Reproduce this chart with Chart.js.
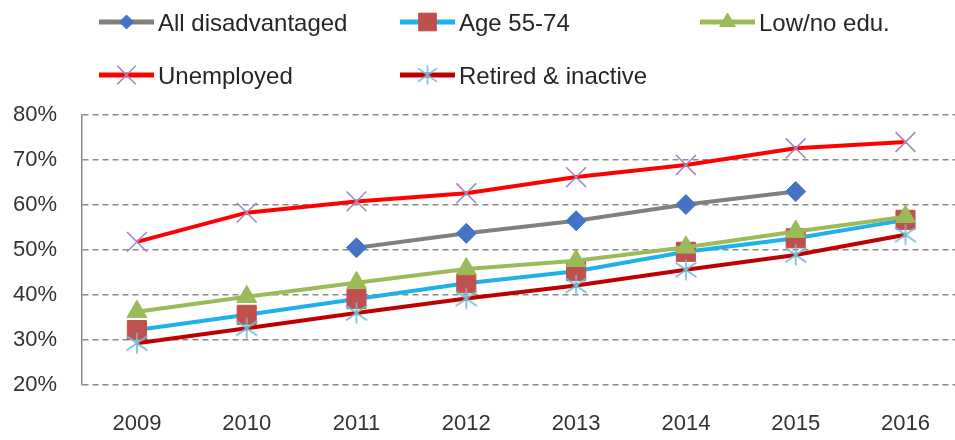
<!DOCTYPE html>
<html>
<head>
<meta charset="utf-8">
<script src="https://cdn.jsdelivr.net/npm/chart.js@4/dist/chart.umd.min.js"></script>
<style>
  html, body { margin: 0; padding: 0; background: #fff; overflow: hidden; }
  #wrap { width: 955px; height: 440px; overflow: hidden; position: relative; }
  canvas { display: block; }
</style>
</head>
<body>
<div id="wrap"><canvas id="c" width="976" height="440"></canvas></div>
<script>
// ---- data ----
const years = ['2009', '2010', '2011', '2012', '2013', '2014', '2015', '2016'];
const seriesNames = ['All disadvantaged', 'Age 55-74', 'Low/no edu.', 'Unemployed', 'Retired & inactive'];
const allDisadvantaged = [null, null, 50.5, 53.7, 56.5, 60.1, 63.0, null];
const age5574 = [32.2, 35.6, 39.1, 42.6, 45.3, 49.6, 52.6, 56.7];
const lowNoEdu = [36.3, 39.6, 42.7, 45.8, 47.6, 50.6, 54.1, 57.4];
const unemployed = [51.8, 58.3, 60.8, 62.6, 66.2, 68.9, 72.6, 74.0];
const retiredInactive = [29.3, 32.6, 36.0, 39.2, 42.1, 45.6, 48.9, 53.4];
const yMin = 20, yMax = 80, yStep = 10;

const FONT = '"Liberation Sans", Arial, sans-serif';

function makeAsterisk(color, half) {
  const c = document.createElement('canvas');
  const s = half * 2 + 4;
  c.width = s; c.height = s;
  const g = c.getContext('2d');
  const m = s / 2;
  g.strokeStyle = color; g.lineWidth = 1.6; g.lineCap = 'round';
  g.beginPath();
  g.moveTo(m, m - half); g.lineTo(m, m + half);
  g.moveTo(m - half, m - half * 0.7); g.lineTo(m + half, m + half * 0.7);
  g.moveTo(m - half, m + half * 0.7); g.lineTo(m + half, m - half * 0.7);
  g.stroke();
  return c;
}
const starImg = makeAsterisk('#6fbfd6', 10);
const starImgLegend = makeAsterisk('#6fbfd6', 9);

const styles = [
  { line: '#808080', pt: 'rectRot', r: 10, fill: '#4472C4', stroke: '#4472C4', bw: 1, lr: 7 },
  { line: '#1FB1EA', pt: 'rect', r: 13.5, fill: '#C0504D', stroke: '#C0504D', bw: 1, lr: 12.5 },
  { line: '#9BBB59', pt: 'triangle', r: 11.5, fill: '#9BBB59', stroke: '#9BBB59', bw: 1, lr: 9 },
  { line: '#FF0000', pt: 'crossRot', r: 14, fill: '#9d8cc2', stroke: '#9d8cc2', bw: 1.6, lr: 13 },
  { line: '#C00000', pt: starImg, r: 10, fill: '#6fbfd6', stroke: '#6fbfd6', bw: 1.6, lr: 9, legendImg: starImgLegend }
];
const seriesData = [allDisadvantaged, age5574, lowNoEdu, unemployed, retiredInactive];

const datasets = seriesData.map((d, i) => ({
  label: seriesNames[i],
  data: d,
  borderColor: styles[i].line,
  backgroundColor: styles[i].line,
  borderWidth: 4,
  tension: 0,
  pointStyle: styles[i].pt,
  pointRadius: styles[i].r,
  pointHoverRadius: styles[i].r,
  pointBackgroundColor: styles[i].fill,
  pointBorderColor: styles[i].stroke,
  pointBorderWidth: styles[i].bw,
  spanGaps: false,
  clip: false,
  order: seriesData.length - 1 - i
}));

const legendPos = [
  { x: 99, y: 22 }, { x: 400, y: 22 }, { x: 700, y: 22 },
  { x: 99, y: 75 }, { x: 400, y: 75 }
];

const legendPlugin = {
  id: 'customLegend',
  afterDraw(chart) {
    const ctx = chart.ctx;
    ctx.save();
    chart.data.datasets.forEach((ds, i) => {
      const p = legendPos[i];
      const st = styles[i];
      ctx.strokeStyle = ds.borderColor;
      ctx.lineWidth = 5;
      ctx.lineCap = 'butt';
      ctx.setLineDash([]);
      ctx.beginPath();
      ctx.moveTo(p.x, p.y);
      ctx.lineTo(p.x + 55, p.y);
      ctx.stroke();
      ctx.fillStyle = st.fill;
      ctx.strokeStyle = st.stroke;
      ctx.lineWidth = st.bw;
      Chart.helpers.drawPoint(ctx, {
        pointStyle: st.legendImg || st.pt,
        radius: st.lr,
        rotation: 0,
        borderWidth: st.bw
      }, p.x + 27.5, p.y);
      ctx.fillStyle = '#262626';
      ctx.font = '24px ' + FONT;
      ctx.textAlign = 'left';
      ctx.textBaseline = 'alphabetic';
      ctx.fillText(ds.label, p.x + 59, p.y + 9);
    });
    ctx.restore();
  }
};

new Chart(document.getElementById('c'), {
  type: 'line',
  data: { labels: years, datasets },
  options: {
    responsive: false,
    animation: false,
    devicePixelRatio: 1,
    layout: { padding: { top: 115, left: 0, right: 0, bottom: 0 } },
    plugins: { legend: { display: false }, tooltip: { enabled: false } },
    scales: {
      x: {
        offset: true,
        grid: { display: false, drawTicks: false },
        border: { display: false },
        ticks: { color: '#333333', font: { family: FONT, size: 22 }, padding: 26, maxRotation: 0, autoSkip: false },
        afterFit(s) { s.height = 55; s.paddingLeft = 0; s.paddingRight = 0; }
      },
      y: {
        min: yMin, max: yMax,
        grid: { color: '#8a8a8a', lineWidth: 1.5, drawTicks: false },
        border: { display: true, color: '#8a8a8a', width: 1.5, dash: [6, 4] },
        ticks: {
          stepSize: yStep, color: '#333333', padding: 25,
          font: { family: FONT, size: 22 },
          callback: v => v + '%'
        },
        afterFit(s) { s.width = 82; }
      }
    }
  },
  plugins: [legendPlugin]
});
</script>
</body>
</html>
